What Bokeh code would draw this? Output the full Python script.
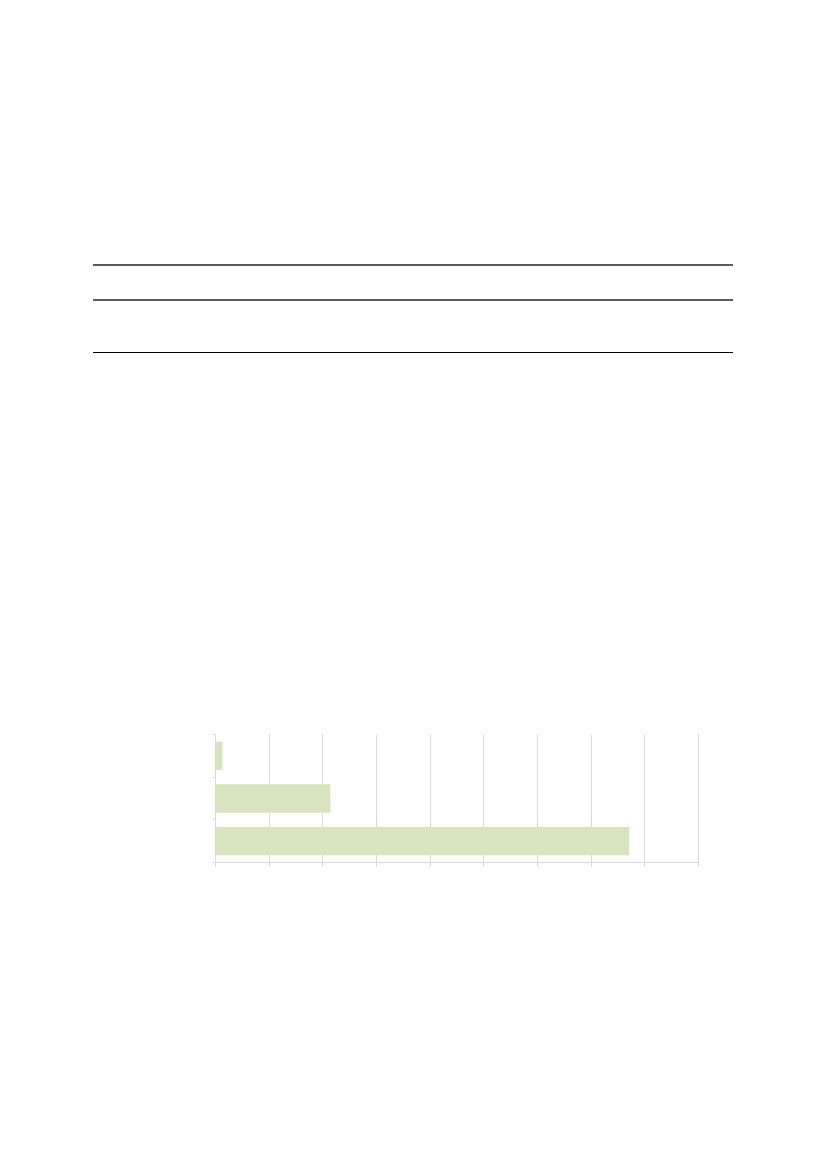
from bokeh.plotting import figure
from bokeh.models import Div, Range1d, FixedTicker, CustomJSTickFormatter
from bokeh.layouts import column
from bokeh.embed import file_html
from bokeh.resources import INLINE

# ---- data (bars listed top to bottom) ----
categories = ["Category 1", "Category 2", "Category 3"]
values = [1.3, 21.4, 77.1]
x_ticks = [0, 10, 20, 30, 40, 50, 60, 70, 80, 90]

BAR_COLOR = "#d7e4bd"
GRID_COLOR = "#d9d9d9"

# ---- table rules above the chart (empty table) ----
rules_html = """
<div style="position:relative;width:811px;height:400px;">
  <div style="position:absolute;left:88px;top:259px;width:640px;height:0;border-top:2px solid #5a5a5a;"></div>
  <div style="position:absolute;left:88px;top:294px;width:640px;height:0;border-top:2px solid #5a5a5a;"></div>
  <div style="position:absolute;left:88px;top:347px;width:640px;height:0;border-top:1.5px solid #000000;"></div>
</div>
"""
div = Div(text=rules_html, width=811, height=400)

# ---- bar chart ----
n = len(categories)
ys = [n - 0.5 - i for i in range(n)]

p = figure(
    output_backend="svg",
    toolbar_location=None,
    frame_width=484,
    frame_height=128,
    x_range=Range1d(x_ticks[0], x_ticks[-1] + 0.2),
    y_range=Range1d(0, n),
    min_border_left=215,
    min_border_right=40,
    min_border_top=324,
    min_border_bottom=20,
)
p.outline_line_color = None
p.background_fill_color = "white"
p.border_fill_color = "white"

p.hbar(y=ys, right=values, left=0, height=0.665,
       fill_color=BAR_COLOR, line_color=None)

empty = CustomJSTickFormatter(code="return '';")

p.xaxis.ticker = FixedTicker(ticks=x_ticks)
p.xaxis.formatter = empty
p.xaxis.axis_line_color = GRID_COLOR
p.xaxis.major_tick_line_color = GRID_COLOR
p.xaxis.major_tick_out = 4
p.xaxis.major_tick_in = 0
p.xaxis.minor_tick_line_color = None
p.xaxis.major_label_standoff = 0

p.yaxis.ticker = FixedTicker(ticks=list(range(n + 1)))
p.yaxis.formatter = empty
p.yaxis.axis_line_color = GRID_COLOR
p.yaxis.major_tick_line_color = GRID_COLOR
p.yaxis.major_tick_out = 3
p.yaxis.major_tick_in = 0
p.yaxis.minor_tick_line_color = None
p.yaxis.major_label_standoff = 0

p.xgrid.ticker = FixedTicker(ticks=x_ticks)
p.xgrid.grid_line_color = GRID_COLOR
p.ygrid.grid_line_color = None

layout = column(div, p)

open("out.html", "w").write(file_html(layout, INLINE))
